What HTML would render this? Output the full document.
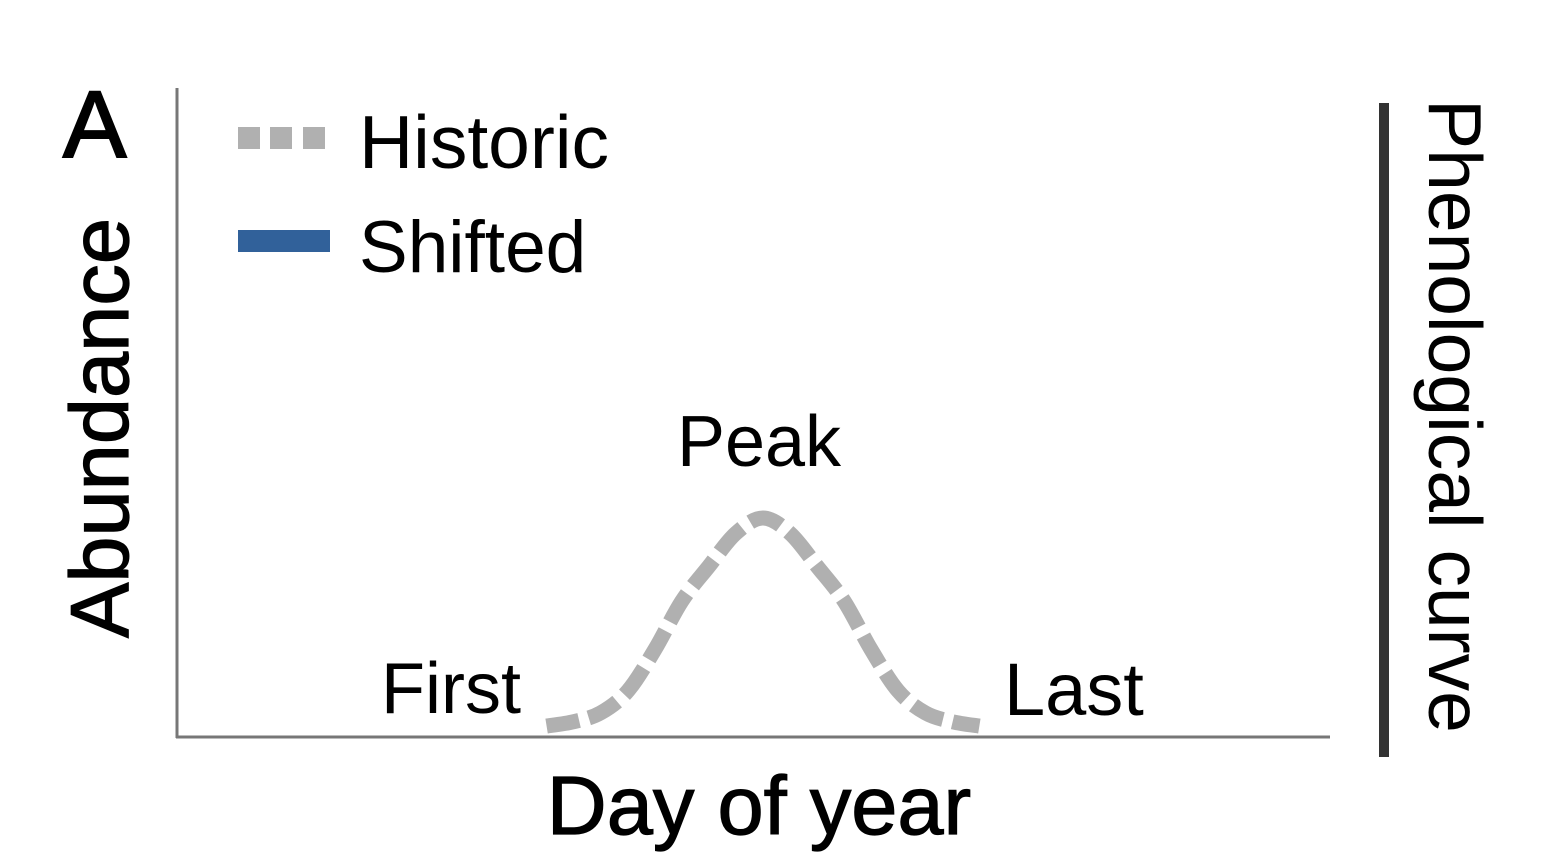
<!DOCTYPE html>
<html><head><meta charset="utf-8"><style>
html,body{margin:0;padding:0;background:#fff;}
svg{display:block;font-family:"Liberation Sans",sans-serif;}
</style></head><body>
<svg id="chart" width="1546" height="868" viewBox="0 0 1546 868">
<text x="63" y="157" font-size="95" fill="#000" stroke="#000" stroke-width="2">A</text>
<line x1="177" y1="88" x2="177" y2="738" stroke="#777" stroke-width="3"/>
<line x1="176" y1="737" x2="1330" y2="737" stroke="#777" stroke-width="3"/>
<text transform="translate(128,428) rotate(-90)" text-anchor="middle" font-size="83" fill="#000" stroke="#000" stroke-width="1.2">Abundance</text>
<text x="759" y="834" text-anchor="middle" font-size="83" fill="#000" stroke="#000" stroke-width="1.2">Day of year</text>
<g fill="#b0b0b0">
<rect x="238" y="127" width="22" height="22"/><rect x="270" y="127" width="22" height="22"/><rect x="303" y="127" width="22" height="22"/>
</g>
<text x="359" y="168" font-size="75" fill="#000">Historic</text>
<rect x="238" y="230" width="92" height="22" fill="#31619a"/>
<text x="359" y="272" font-size="73" fill="#000">Shifted</text>
<text x="759" y="466" text-anchor="middle" font-size="72" fill="#000">Peak</text>
<text x="381" y="713" font-size="72" fill="#000">First</text>
<text x="1004" y="715" font-size="74" fill="#000">Last</text>
<line x1="1384" y1="103" x2="1384" y2="757" stroke="#333" stroke-width="10"/>
<text transform="translate(1429,416) rotate(90)" text-anchor="middle" font-size="75" fill="#000">Phenological curve</text>
<g id="series"></g>
</svg>
<script>
const days = [117,125.6,134.1,142.7,151.3,159.8,168.4,176.9,185.5,194.1,202.6,211.2,219.7,228.3,236.9,245.4,254];
const abundance = [0.05,0.07,0.11,0.21,0.40,0.62,0.78,0.93,1.0,0.93,0.78,0.62,0.40,0.21,0.11,0.07,0.05];
const xDomain = [0,365];
const yDomain = [0,1];
function xScale(d){return 177 + (d - xDomain[0])/(xDomain[1]-xDomain[0])*(1330-177);}
function yScale(v){return 737 - (v - yDomain[0])/(yDomain[1]-yDomain[0])*219;}
const pts = days.map((d,i)=>[xScale(d), yScale(abundance[i])]);
let p = 'M'+pts[0][0]+','+pts[0][1];
for(let i=0;i<pts.length-1;i++){
  const p0=pts[Math.max(0,i-1)],p1=pts[i],p2=pts[i+1],p3=pts[Math.min(pts.length-1,i+2)];
  const c1=[p1[0]+(p2[0]-p0[0])/6,p1[1]+(p2[1]-p0[1])/6];
  const c2=[p2[0]-(p3[0]-p1[0])/6,p2[1]-(p3[1]-p1[1])/6];
  p+=' C'+c1[0]+','+c1[1]+' '+c2[0]+','+c2[1]+' '+p2[0]+','+p2[1];
}
const path=document.createElementNS('http://www.w3.org/2000/svg','path');
path.setAttribute('d',p);
path.setAttribute('fill','none');
path.setAttribute('stroke','#b0b0b0');
path.setAttribute('stroke-width','15');
path.setAttribute('stroke-dasharray','33,10');


document.getElementById('series').appendChild(path);
</script>
</body></html>
